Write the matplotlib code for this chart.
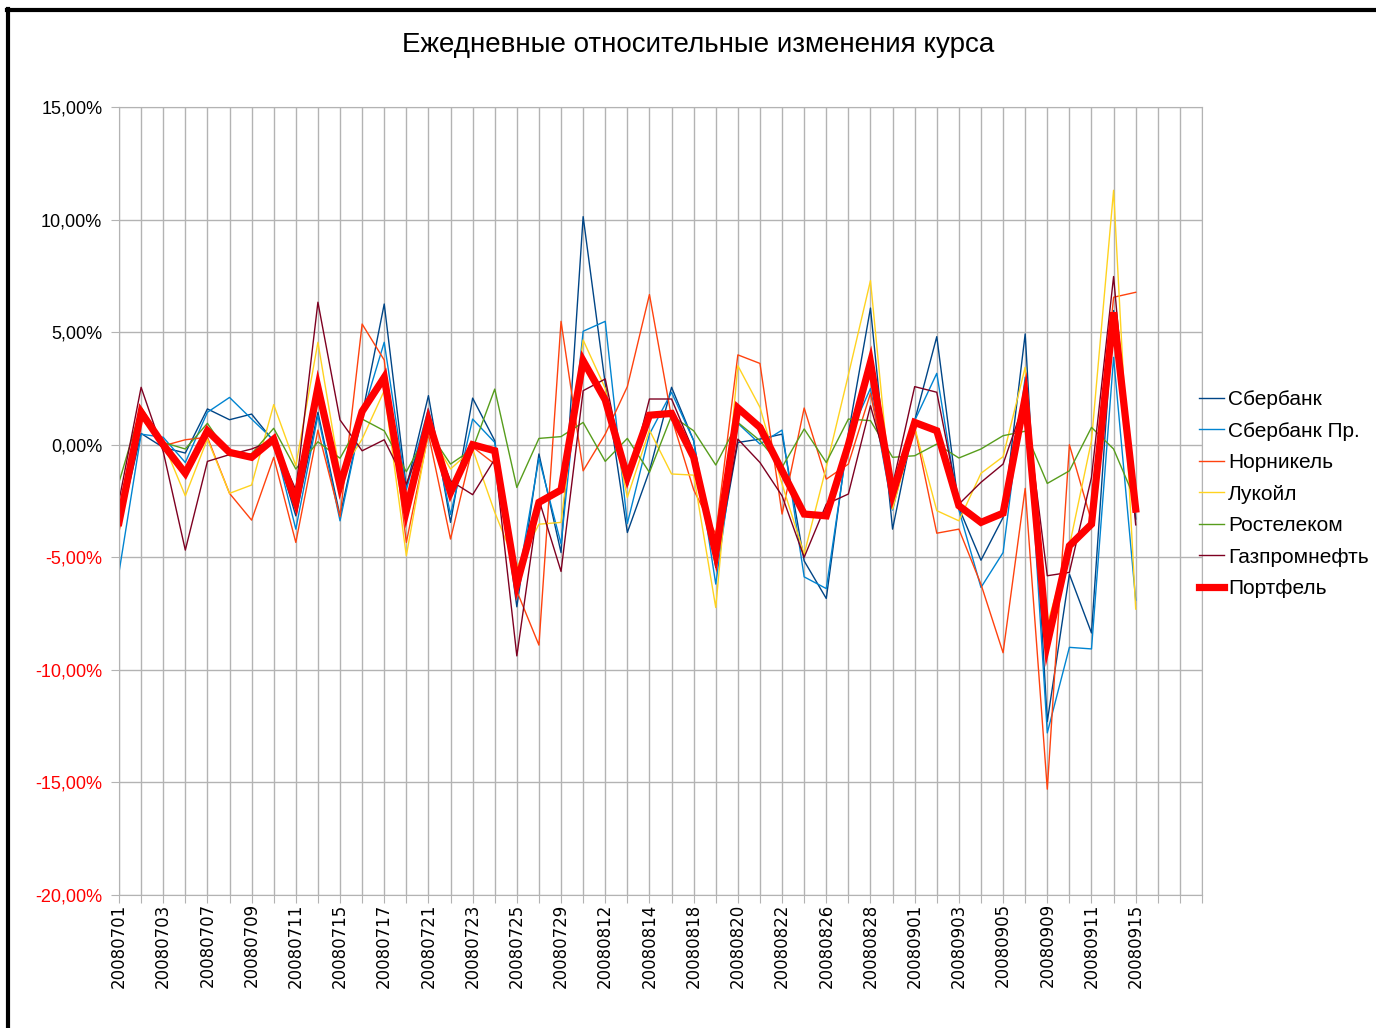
import matplotlib
matplotlib.use("Agg")
import matplotlib.pyplot as plt
from matplotlib.lines import Line2D
from matplotlib.ticker import FuncFormatter

plt.rcParams['font.family'] = ['Liberation Sans', 'DejaVu Sans']

# trading days (index 21 is hidden between labels)
dates = ["20080701", "20080702", "20080703", "20080704", "20080707", "20080708",
         "20080709", "20080710", "20080711", "20080714", "20080715", "20080716",
         "20080717", "20080718", "20080721", "20080722", "20080723", "20080724",
         "20080725", "20080728", "20080729", "20080811", "20080812", "20080813",
         "20080814", "20080815", "20080818", "20080819", "20080820", "20080821",
         "20080822", "20080825", "20080826", "20080827", "20080828", "20080829",
         "20080901", "20080902", "20080903", "20080904", "20080905", "20080908",
         "20080909", "20080910", "20080911", "20080912", "20080915"]

# daily changes, %
sber = [-3.7, 0.5, -0.12, -0.37, 1.59, 1.11, 1.36, 0.15, -3.16, 1.44, -3.16, 1.3,
        6.25, -1.9, 2.18, -3.45, 2.07, 0.18, -7.2, -0.41, -4.79, 10.13, 2.7, -3.9,
        -1.16, 2.55, 0.18, -5.45, 0.1, 0.25, 0.47, -5.16, -6.83, 0.5, 6.07, -3.75,
        1.07, 4.8, -2.8, -5.13, -3.23, 4.92, -12.3, -5.75, -8.36, 5.96, -3.3]
sber_pr = [-5.67, 0.47, 0.33, -0.79, 1.44, 2.10, 1.14, 0.2, -3.75, 1.3, -3.38, 1.3,
           4.55, -2.0, 1.6, -3.1, 1.14, 0.1, -6.34, -0.6, -4.4, 5.04, 5.48, -3.5,
           0.47, 2.33, 0.18, -6.19, 0.95, 0.03, 0.65, -5.87, -6.39, 0.3, 2.5, -2.9,
           1.07, 3.17, -2.9, -6.34, -4.79, 3.0, -12.8, -9.0, -9.07, 3.88, -6.9]
nornikel = [-3.87, 1.2, -0.05, 0.22, 0.33, -2.16, -3.35, -0.56, -4.34, 0.65, -3.2, 5.36,
            3.76, -4.34, 0.47, -4.19, -0.1, -0.86, -6.5, -8.9, 5.48, -1.16, 0.47, 2.58,
            6.67, 1.2, -2.0, -3.97, 3.99, 3.61, -3.08, 1.63, -1.53, -0.86, 2.28, -2.5,
            0.77, -3.93, -3.75, -6.2, -9.24, -1.94, -15.3, 0.0, -3.4, 6.55, 6.77]
lukoil = [-3.2, 1.66, 0.1, -2.27, 0.25, -2.16, -1.79, 1.78, -0.93, 4.55, -1.3, 0.25,
          2.4, -4.93, 0.6, -1.08, -0.19, -3.0, -5.45, -3.53, -3.45, 4.65, 2.5, -2.34,
          0.65, -1.3, -1.35, -7.23, 3.51, 1.66, -1.75, -4.86, -1.0, 3.1, 7.29, -2.86,
          0.77, -2.93, -3.38, -1.27, -0.53, 3.44, -8.0, -4.5, 0.18, 11.3, -7.3]
rostelecom = [-1.67, 1.66, 0.1, -0.19, 0.95, -0.49, -0.4, 0.73, -1.08, 0.13, -0.6, 1.14,
              0.62, -1.2, 0.6, -0.86, -0.19, 2.47, -1.9, 0.28, 0.36, 0.99, -0.74, 0.28,
              -1.23, 1.29, 0.62, -0.9, 0.99, 0.18, -1.0, 0.7, -0.79, 1.14, 1.07, -0.56,
              -0.49, 0.03, -0.59, -0.19, 0.4, 0.6, -1.72, -1.16, 0.77, -0.19, -2.5]
gazpromneft = [-2.49, 2.55, -0.3, -4.68, -0.74, -0.44, -0.19, 0.2, -2.0, 6.33, 1.10, -0.27,
               0.22, -1.75, 0.9, -1.6, -2.22, -0.64, -9.38, -2.44, -5.63, 2.4, 2.92, -1.82,
               2.03, 2.03, -0.3, -5.3, 0.25, -0.79, -2.27, -5.0, -2.64, -2.19, 1.73, -1.8,
               2.58, 2.33, -2.64, -1.67, -0.86, 2.0, -5.82, -5.67, -1.45, 7.47, -3.56]
portfel = [-3.45, 1.44, 0.0, -1.27, 0.62, -0.34, -0.56, 0.25, -2.56, 2.55, -1.82, 1.48,
           2.99, -2.93, 1.07, -2.12, 0.0, -0.27, -6.19, -2.56, -2.01, 3.73, 1.99, -1.45,
           1.31, 1.39, -0.56, -4.83, 1.63, 0.77, -1.16, -3.08, -3.16, 0.0, 3.66, -2.19,
           0.99, 0.62, -2.71, -3.45, -3.04, 2.1, -8.84, -4.49, -3.53, 5.88, -2.86]

series = [("Сбербанк", sber, "#004586"),
          ("Сбербанк Пр.", sber_pr, "#0084d1"),
          ("Норникель", nornikel, "#ff420e"),
          ("Лукойл", lukoil, "#ffd320"),
          ("Ростелеком", rostelecom, "#579d1c"),
          ("Газпромнефть", gazpromneft, "#7e0021")]

W, H = 1376, 1028
fig = plt.figure(figsize=(W / 100, H / 100), dpi=100)
ax = fig.add_axes([119 / W, 1 - 895 / H, 1083 / W, 788 / H])

x = list(range(len(dates)))
for name, vals, col in series:
    ax.plot(x, vals, color=col, lw=1.0, label=name)
ax.plot(x, portfel, color="#ff0000", lw=5.2, label="Портфель",
        solid_joinstyle="miter")

n_cat = 50
ax.set_xlim(0, n_cat - 1)
ax.set_ylim(-20, 15)
ax.set_xticks(range(n_cat))
labels = [dates[i] if (i < len(dates) and i % 2 == 0) else "" for i in range(n_cat)]
ax.set_xticklabels(labels, rotation=90, fontsize=12, family=['DejaVu Sans'])
ax.set_yticks(range(-20, 16, 5))
ax.yaxis.set_major_formatter(FuncFormatter(lambda v, p: f"{v:.2f}%".replace(".", ",")))
for lab, v in zip(ax.get_yticklabels(), range(-20, 16, 5)):
    lab.set_color("#ff0000" if v < 0 else "black")
    lab.set_fontsize(13)

ax.grid(True, color="#b3b3b3", lw=1.0)
ax.set_axisbelow(True)
ax.tick_params(axis="x", length=6, color="#b3b3b3", pad=0)
ax.tick_params(axis="y", length=6, color="#b3b3b3", pad=6)
for side in ["left", "bottom", "right", "top"]:
    ax.spines[side].set_color("#b3b3b3")

fig.text(698 / W, 1 - 45 / H, "Ежедневные относительные изменения курса",
         ha="center", va="center", fontsize=20)

fig.legend(loc="center left", bbox_to_anchor=(1199 / W, 1 - 494 / H),
           frameon=False, fontsize=15, handlelength=1.2, handletextpad=0.2,
           labelspacing=0.6, borderpad=0, borderaxespad=0)

# outer frame (top and left edges)
fig.add_artist(Line2D([7 / W, 1], [1 - 10 / H] * 2, transform=fig.transFigure,
                      color="black", lw=3))
fig.add_artist(Line2D([8 / W] * 2, [0, 1 - 9 / H], transform=fig.transFigure,
                      color="black", lw=3))

fig.savefig("out.png", dpi=100)
